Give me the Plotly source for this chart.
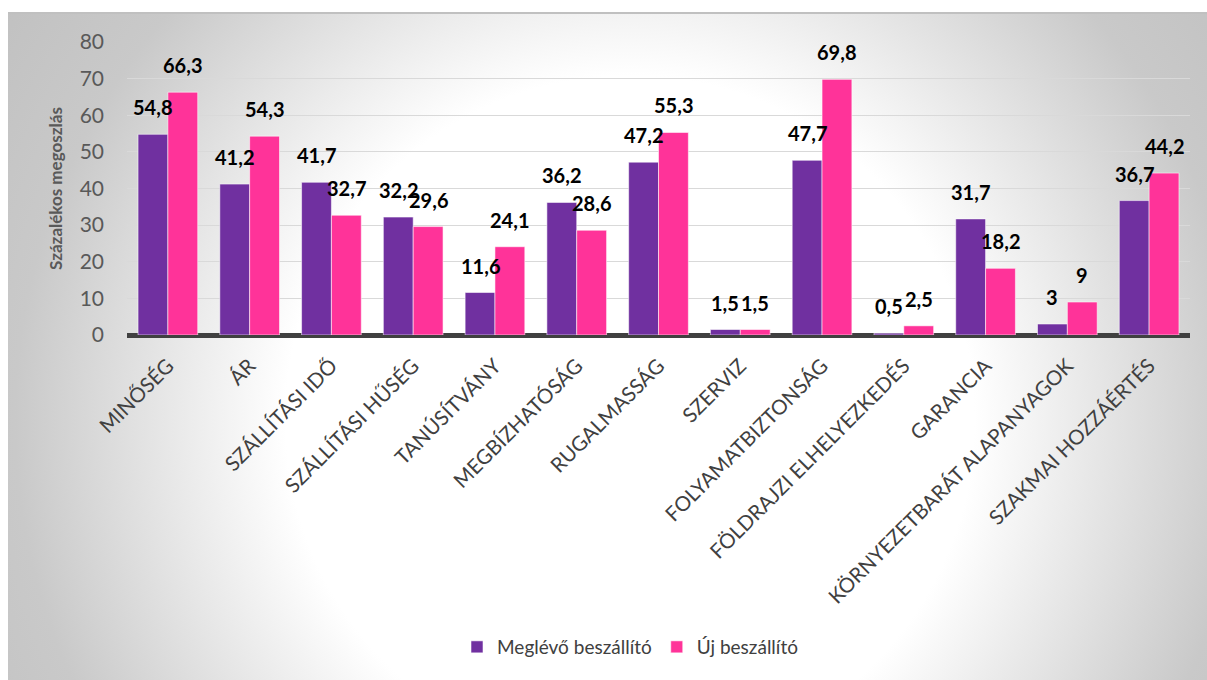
import base64
import plotly.graph_objects as go

categories = ["MINŐSÉG", "ÁR", "SZÁLLÍTÁSI IDŐ", "SZÁLLÍTÁSI HŰSÉG", "TANÚSÍTVÁNY",
              "MEGBÍZHATÓSÁG", "RUGALMASSÁG", "SZERVIZ", "FOLYAMATBIZTONSÁG",
              "FÖLDRAJZI ELHELYEZKEDÉS", "GARANCIA", "KÖRNYEZETBARÁT ALAPANYAGOK",
              "SZAKMAI HOZZÁÉRTÉS"]
meglevo = [54.8, 41.2, 41.7, 32.2, 11.6, 36.2, 47.2, 1.5, 47.7, 0.5, 31.7, 3, 36.7]
uj = [66.3, 54.3, 32.7, 29.6, 24.1, 28.6, 55.3, 1.5, 69.8, 2.5, 18.2, 9, 44.2]
series_names = ["Meglévő beszállító", "Új beszállító"]
colors = ["#7030A0", "#FF3399"]

W, H = 1207, 680
L, R, T, B = 127, 17, 42, 345
pw, ph = W - L - R, H - T - B
BARGAP = 0.27

def fmt(v):
    return ("%g" % v).replace(".", ",")

FONT = "Lato, 'Open Sans', sans-serif"

fig = go.Figure()
for name, vals, col in zip(series_names, [meglevo, uj], colors):
    fig.add_trace(go.Bar(
        x=categories, y=vals, name=name,
        marker=dict(color=col, line=dict(color="rgba(255,255,255,0.55)", width=1)),
        hoverinfo="x+y",
    ))

# data labels, centred over each bar of the group
shift = (1 - BARGAP) * pw / len(categories) / 4
for i, c in enumerate(categories):
    for vals, xs in ((meglevo, -shift), (uj, shift)):
        fig.add_annotation(x=c, y=vals[i], text=fmt(vals[i]), showarrow=False,
                           xshift=xs, yshift=13, yanchor="bottom", xanchor="center",
                           font=dict(family=FONT, size=20, color="#000000", weight="bold"))

# background radial gradient (frame)
fx0, fy0, fx1, fy1 = 8, 12, 1207, 680
fw, fh = fx1 - fx0, fy1 - fy0
cx, cy = 630 - fx0, 420 - fy0
svg = f'''<svg xmlns="http://www.w3.org/2000/svg" width="{fw}" height="{fh}" viewBox="0 0 {fw} {fh}" preserveAspectRatio="none">
<defs><radialGradient id="g" gradientUnits="userSpaceOnUse" cx="{cx}" cy="{cy}" r="820">
<stop offset="0" stop-color="#ffffff"/>
<stop offset="0.42" stop-color="#ffffff"/>
<stop offset="0.75" stop-color="#c9c9c9"/>
<stop offset="1" stop-color="#bdbdbd"/>
</radialGradient></defs>
<rect x="0" y="0" width="{fw}" height="{fh}" fill="url(#g)"/>
<rect x="0" y="0" width="{fw}" height="2" fill="#c0c0c0"/>
</svg>'''
src = "data:image/svg+xml;base64," + base64.b64encode(svg.encode()).decode()

def px2paper_x(px):
    return (px - L) / pw

def px2paper_y(py):
    return (H - B - py) / ph

fig.add_layout_image(dict(
    source=src, xref="paper", yref="paper",
    x=px2paper_x(fx0), y=px2paper_y(fy0),
    sizex=fw / pw, sizey=fh / ph, sizing="stretch",
    xanchor="left", yanchor="top", layer="below",
))

fig.update_layout(
    width=W, height=H,
    margin=dict(l=L, r=R, t=T, b=B, autoexpand=False),
    paper_bgcolor="#ffffff", plot_bgcolor="rgba(0,0,0,0)",
    barmode="group", bargap=BARGAP, bargroupgap=0.0,
    font=dict(family=FONT, color="#404040"),
    showlegend=True,
    legend=dict(orientation="h", x=px2paper_x(630), xanchor="center",
                y=px2paper_y(647), yanchor="middle",
                font=dict(family=FONT, size=19, color="#404040"),
                bgcolor="rgba(0,0,0,0)", itemwidth=30, traceorder="normal"),
    xaxis=dict(type="category", tickangle=-45, showgrid=False, showline=False,
               ticks="", ticklabelstandoff=14,
               tickfont=dict(family=FONT, size=20.5, color="#404040"),
               fixedrange=True),
    yaxis=dict(range=[0, 80], dtick=10, showgrid=True, gridcolor="#d9d9d9", gridwidth=1,
               zeroline=True, zerolinecolor="#404040", zerolinewidth=5,
               showline=False, ticks="", ticklabelstandoff=22,
               tickfont=dict(family=FONT, size=21, color="#595959"),
               title=dict(text="Százalékos megoszlás", standoff=12,
                          font=dict(family=FONT, size=17, color="#595959", weight="bold")),
               fixedrange=True),
)

fig.write_html("out.html")
